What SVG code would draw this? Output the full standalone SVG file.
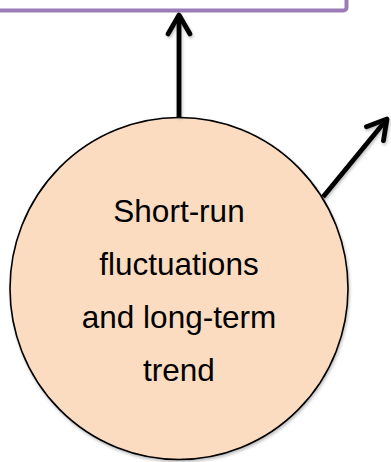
<svg xmlns="http://www.w3.org/2000/svg" width="391" height="462" viewBox="0 0 391 462">
  <defs>
    <style>
      .box { fill: #ffffff; stroke: #9a7db6; stroke-width: 4; }
      .node { fill: #fbdcc1; stroke: #000000; stroke-width: 1.6; }
      .lbl { font-family: "Liberation Sans", Arial, sans-serif; font-size: 31.5px; fill: #000000; text-anchor: middle; }
      .conn { stroke: #000000; stroke-width: 4.8; fill: none; }
    </style>
    <marker id="arrow" markerUnits="userSpaceOnUse" viewBox="-26 -16 30 32" markerWidth="30" markerHeight="32" refX="0" refY="0" orient="auto">
      <path d="M -19 -11 L 0 0 L -19 11" fill="none" stroke="#000" stroke-width="4.8" stroke-linecap="round" stroke-linejoin="round"/>
    </marker>
    <filter id="sh" x="-20%" y="-20%" width="140%" height="140%">
      <feDropShadow dx="1" dy="2" stdDeviation="1.5" flood-color="#000" flood-opacity="0.25"/>
    </filter>
  </defs>
  <g id="top-box">
    <rect class="box" x="-10" y="-60" width="356.5" height="70.5" rx="3"/>
  </g>
  <g id="circle-node">
    <ellipse class="node" cx="179" cy="288.5" rx="169" ry="171" filter="url(#sh)"/>
    <text class="lbl" x="179" y="222">Short-run</text>
    <text class="lbl" x="179" y="275">fluctuations</text>
    <text class="lbl" x="179" y="328">and long-term</text>
    <text class="lbl" x="179" y="381">trend</text>
  </g>
  <g id="connectors" filter="url(#sh)">
    <path class="conn" d="M 179 117 L 179 15" marker-end="url(#arrow)"/>
    <path class="conn" d="M 323 197 L 387 119" marker-end="url(#arrow)"/>
  </g>
</svg>
